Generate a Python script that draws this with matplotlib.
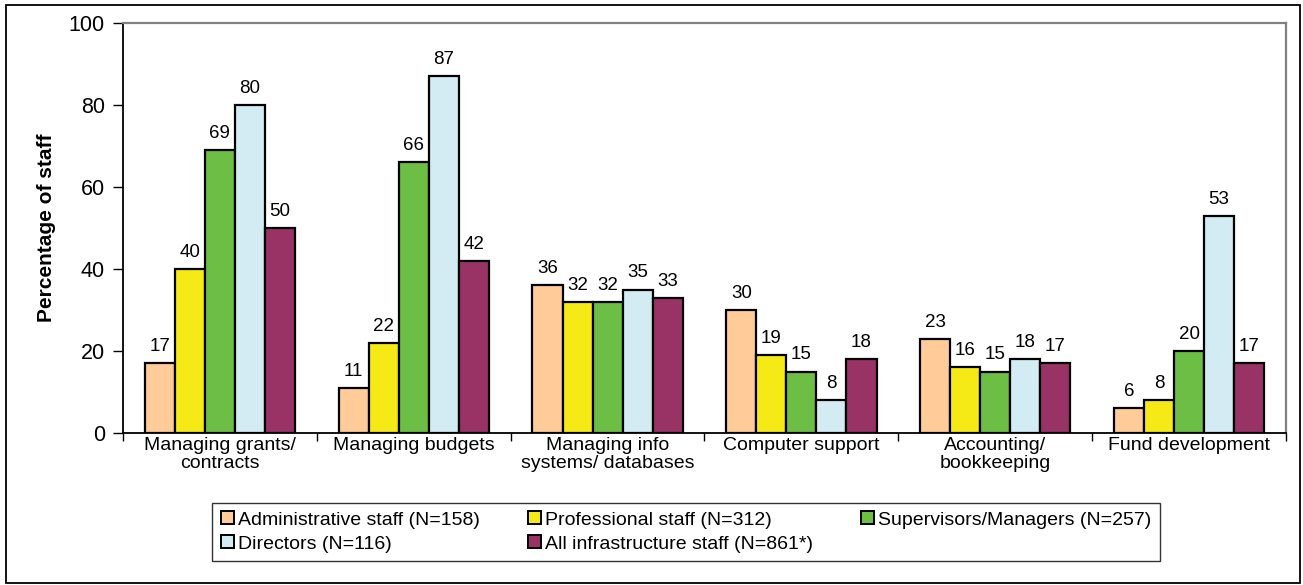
import numpy as np
import matplotlib
matplotlib.use('Agg')
import matplotlib.pyplot as plt
from matplotlib.patches import Rectangle, Patch

categories = ['Managing grants/\ncontracts', 'Managing budgets', 'Managing info\nsystems/ databases',
              'Computer support', 'Accounting/\nbookkeeping', 'Fund development']
series_names = ['Administrative staff (N=158)', 'Professional staff (N=312)',
                'Supervisors/Managers (N=257)', 'Directors (N=116)',
                'All infrastructure staff (N=861*)']
admin = [17, 11, 36, 30, 23, 6]
professional = [40, 22, 32, 19, 16, 8]
supervisors = [69, 66, 32, 15, 15, 20]
directors = [80, 87, 35, 8, 18, 53]
all_staff = [50, 42, 33, 18, 17, 17]
colors = ['#FFCC99', '#F5E916', '#6DBE45', '#D3EBF3', '#993366']

plt.rcParams['font.family'] = ['Liberation Sans', 'DejaVu Sans']

fig = plt.figure(figsize=(13.03, 5.85), dpi=100)
ax = fig.add_axes([123 / 1303, 1 - 433 / 585, (1286 - 123) / 1303, (433 - 23) / 585])

data = [admin, professional, supervisors, directors, all_staff]
x = np.arange(len(categories))
w = 0.155
for i, (vals, col, name) in enumerate(zip(data, colors, series_names)):
    pos = x + (i - 2) * w
    ax.bar(pos, vals, width=w, color=col, edgecolor='black', linewidth=1.6, label=name)
    for p, v in zip(pos, vals):
        ax.text(p, v + 2.0, str(v), ha='center', va='bottom', fontsize=13.5)

ax.set_xlim(-0.5, 5.5)
ax.set_ylim(0, 100)
ax.set_yticks([0, 20, 40, 60, 80, 100])
ax.tick_params(axis='y', labelsize=15.5, length=7, width=1, direction='out', pad=6)
ax.set_xticks(x)
ax.set_xticklabels(categories, fontsize=14, linespacing=1.05)
ax.tick_params(axis='x', length=0, pad=3)
ax.set_xticks(np.arange(-0.5, 6, 1), minor=True)
ax.tick_params(axis='x', which='minor', length=6, width=1, direction='out')
ax.set_ylabel('Percentage of staff', fontsize=15, fontweight='bold', labelpad=9)

ax.spines['top'].set_color('#808080')
ax.spines['right'].set_color('#808080')
ax.spines['top'].set_linewidth(1.6)
ax.spines['right'].set_linewidth(1.6)
ax.spines['left'].set_linewidth(1.3)
ax.spines['bottom'].set_linewidth(1.3)

# legend in row-major order
order = [0, 3, 1, 4, 2]
leg_handles = [Patch(facecolor=colors[k], edgecolor='black', linewidth=1.4) for k in order]
leg_labels = [series_names[k] for k in order]
leg = fig.legend(leg_handles, leg_labels, ncol=3, loc='center',
                 bbox_to_anchor=((208 + 1164) / 2 / 1303, 1 - 532 / 585),
                 fontsize=14, frameon=True, fancybox=False, edgecolor='black',
                 handlelength=0.65, handleheight=0.65, handletextpad=0.2,
                 columnspacing=2.5, labelspacing=0.35, borderpad=0.45)
leg.get_frame().set_linewidth(1.0)

fig.patches.append(Rectangle((6 / 1303, 2 / 585), 1294 / 1303, 578 / 585, transform=fig.transFigure,
                             fill=False, edgecolor='black', linewidth=1.3))

fig.savefig('out.png', dpi=100)
